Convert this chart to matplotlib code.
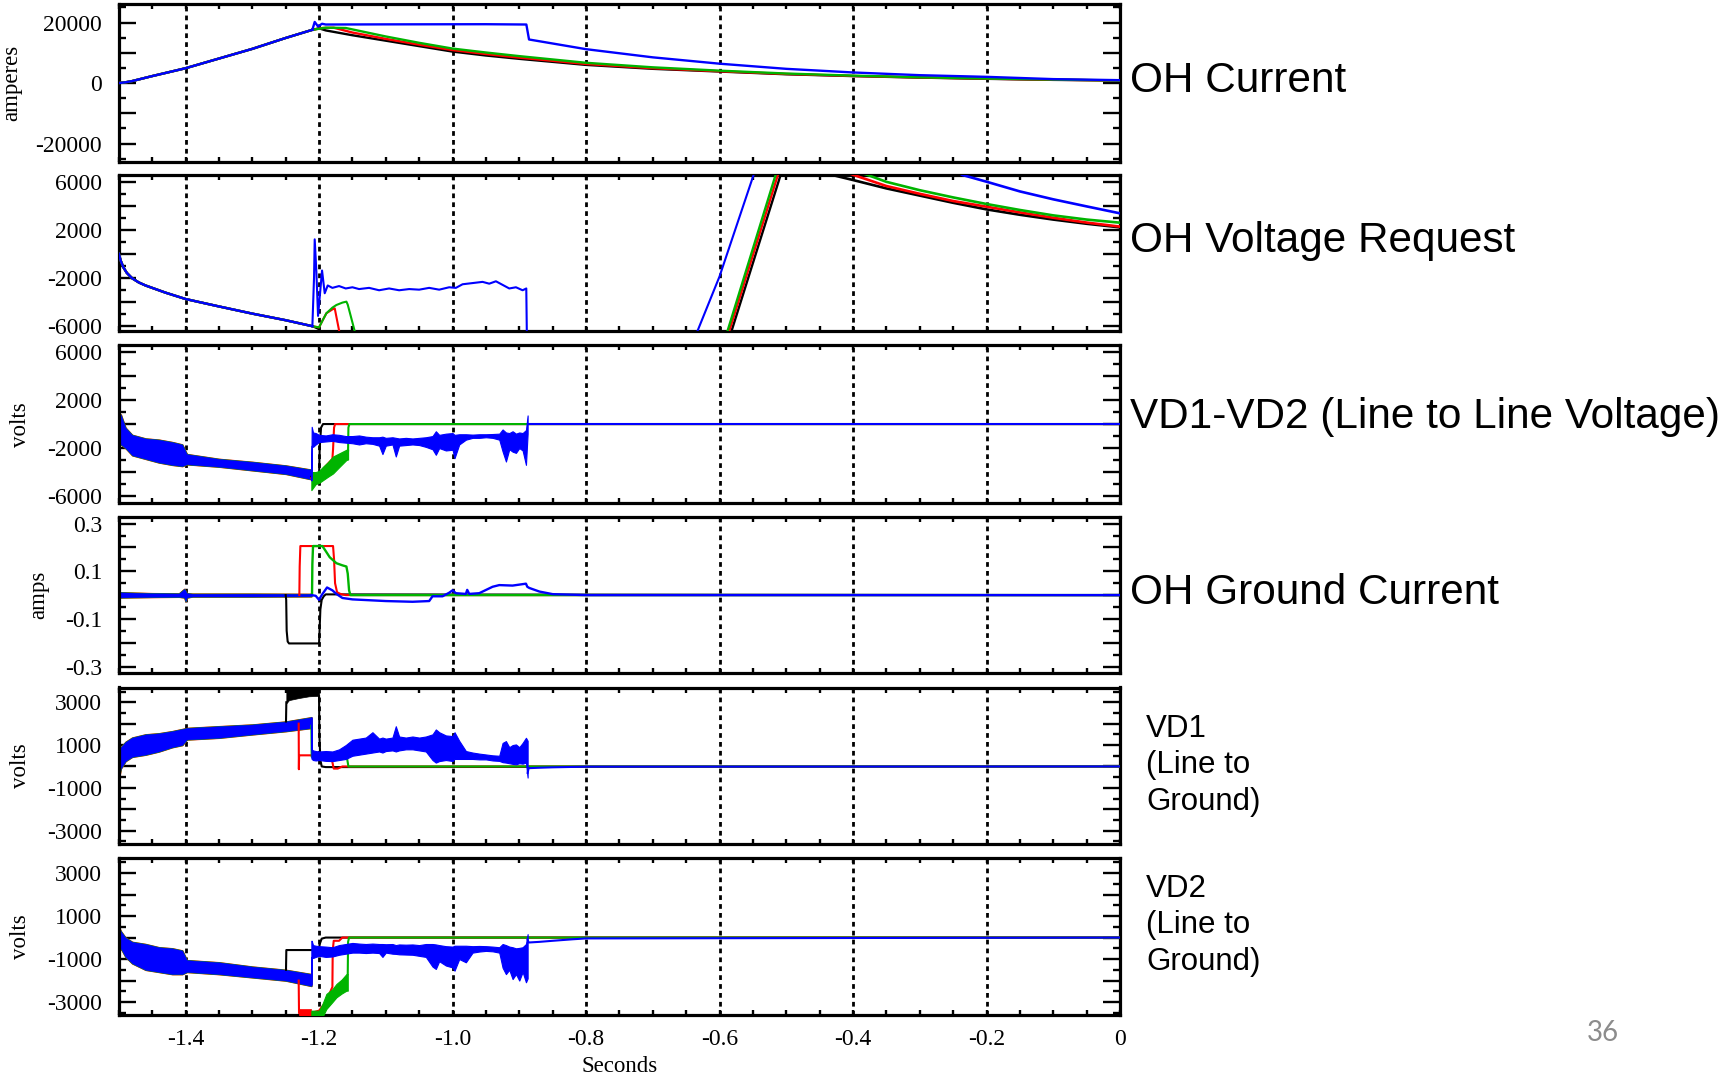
import matplotlib
matplotlib.use('Agg')
import matplotlib.pyplot as plt
from matplotlib.ticker import MultipleLocator

plt.rcParams['font.family'] = 'Liberation Serif'

BLACK, RED, GREEN, BLUE = '#000000', '#ff0000', '#00b400', '#0000ff'

# ---------------- time axis ----------------
x_ticks = [-1.4, -1.2, -1.0, -0.8, -0.6, -0.4, -0.2, 0.0]
x_ticklabels = ['-1.4', '-1.2', '-1.0', '-0.8', '-0.6', '-0.4', '-0.2', '0']
grid_t = [-1.4, -1.2, -1.0, -0.8, -0.6, -0.4, -0.2]

# ---------------- OH current [A] ----------------
ohc_ramp_t = [-1.5, -1.49, -1.48, -1.45, -1.4, -1.35, -1.3, -1.25, -1.21]
ohc_ramp = [0, 250, 650, 2300, 4900, 8100, 11300, 14900, 17600]
ohc_black_t = [-1.21, -1.2, -1.19, -1.15, -1.1, -1.05, -1.0, -0.95, -0.9, -0.8, -0.7, -0.6, -0.5, -0.4, -0.3, -0.2, -0.1, 0.0]
ohc_black = [17600, 18100, 17400, 15800, 14000, 12200, 10400, 9100, 8000, 6000, 4700, 3800, 2900, 2300, 1800, 1400, 1050, 850]
ohc_red_t = [-1.21, -1.195, -1.178, -1.15, -1.1, -1.05, -1.0, -0.95, -0.9, -0.8, -0.7, -0.6, -0.5, -0.4, -0.3, -0.2, -0.1, 0.0]
ohc_red = [17600, 18200, 18300, 16700, 14600, 12700, 10900, 9600, 8400, 6300, 4900, 3900, 3000, 2350, 1850, 1450, 1100, 850]
ohc_green_t = [-1.21, -1.19, -1.16, -1.1, -1.05, -1.0, -0.95, -0.9, -0.8, -0.7, -0.6, -0.5, -0.4, -0.3, -0.2, -0.1, 0.0]
ohc_green = [17600, 18300, 18200, 15400, 13300, 11400, 10100, 8900, 6700, 5200, 4100, 3150, 2450, 1900, 1500, 1150, 850]
ohc_blue_t = [-1.21, -1.2065, -1.2015, -1.1955, -1.19, -1.1, -0.95, -0.8894, -0.8854, -0.8, -0.7, -0.6, -0.5, -0.4, -0.3, -0.2, -0.1, 0.0]
ohc_blue = [17600, 20200, 18700, 19600, 19350, 19400, 19450, 19350, 14400, 11200, 8500, 6400, 4700, 3500, 2600, 2050, 1300, 950]

# ---------------- OH voltage request [V] ----------------
ovr_ramp_t = [-1.5, -1.497, -1.493, -1.488, -1.48, -1.47, -1.46, -1.45, -1.43, -1.4, -1.35, -1.3, -1.25, -1.21]
ovr_ramp = [0, -600, -1150, -1600, -2050, -2400, -2650, -2850, -3250, -3780, -4400, -5000, -5550, -6050]
ovr_black_t = [-1.21, -1.2, -1.195]
ovr_black = [-6050, -6300, -7500]
ovr_red_t = [-1.21, -1.2, -1.195, -1.189, -1.18, -1.1765, -1.17, -1.167]
ovr_red = [-6050, -6150, -5600, -4970, -4650, -4555, -6400, -7500]
ovr_green_t = [-1.21, -1.2, -1.195, -1.189, -1.18, -1.174, -1.165, -1.159, -1.157, -1.1466, -1.144]
ovr_green = [-6050, -6150, -5600, -4970, -4500, -4280, -4080, -4000, -4250, -6450, -7500]
ovr_blue_t = [-1.21, -1.2075, -1.2065, -1.204, -1.2015, -1.198, -1.1955, -1.1915, -1.187, -1.18, -1.17,
              -1.16, -1.15, -1.14, -1.125, -1.11, -1.095, -1.08, -1.065, -1.05, -1.035, -1.02, -1.005,
              -0.995, -0.985, -0.97, -0.955, -0.945, -0.935, -0.925, -0.915, -0.905, -0.895, -0.8895, -0.8885]
ovr_blue = [-6050, -2000, 1200, -1500, -5190, -3000, -1400, -3300, -2650, -2850, -2700,
            -2900, -2800, -2950, -2850, -3050, -2900, -3050, -2950, -3000, -2850, -3000, -2800,
            -2850, -2550, -2450, -2350, -2500, -2300, -2600, -2900, -2800, -3050, -2900, -7500]
ovr_rise_blue_t = [-0.64, -0.633, -0.6, -0.549, -0.54]
ovr_rise_blue = [-7500, -6450, -1900, 6570, 8000]
ovr_rise_black_t = [-0.59, -0.582, -0.5085, -0.5]
ovr_rise_black = [-7900, -6450, 6570, 8100]
ovr_rise_red_t = [-0.5935, -0.5855, -0.5126, -0.5046]
ovr_rise_red = [-7900, -6450, 6570, 8100]
ovr_rise_green_t = [-0.596, -0.588, -0.516, -0.508]
ovr_rise_green = [-7900, -6450, 6570, 8100]
ovr_fall_black_t = [-0.44, -0.431, -0.4, -0.35, -0.3, -0.25, -0.2, -0.15, -0.1, -0.05, 0.0]
ovr_fall_black = [6800, 6570, 6150, 5450, 4850, 4250, 3700, 3250, 2850, 2500, 2200]
ovr_fall_red_t = [-0.41, -0.399, -0.35, -0.3, -0.25, -0.2, -0.15, -0.1, -0.05, 0.0]
ovr_fall_red = [6800, 6570, 5650, 5000, 4400, 3925, 3450, 3000, 2600, 2260]
ovr_fall_green_t = [-0.39, -0.378, -0.35, -0.3, -0.25, -0.2, -0.15, -0.1, -0.05, 0.0]
ovr_fall_green = [6800, 6570, 6000, 5300, 4700, 4150, 3650, 3200, 2850, 2590]
ovr_fall_blue_t = [-0.25, -0.236, -0.2, -0.15, -0.1, -0.05, 0.0]
ovr_fall_blue = [7000, 6570, 6010, 5200, 4540, 3950, 3370]

# ---------------- shared pre-event noise (all four traces overlap) ----------------
pre_t = [-1.5, -1.497, -1.49, -1.48, -1.46, -1.44, -1.42, -1.405, -1.398, -1.35, -1.3, -1.25, -1.2115]
vdd_pre_hi = [400, 800, -300, -900, -1200, -1300, -1500, -1700, -2500, -2900, -3150, -3450, -3800]
vdd_pre_lo = [-1300, -1700, -2000, -2600, -2900, -3200, -3400, -3500, -3350, -3550, -3850, -4150, -4600]
vd1_pre_hi = [700, 900, 1150, 1350, 1500, 1550, 1650, 1750, 1800, 1880, 1960, 2100, 2300]
vd1_pre_lo = [-600, -100, 250, 450, 550, 700, 900, 1000, 1260, 1340, 1500, 1650, 1800]
vd2_pre_hi = [500, 300, 0, -200, -300, -450, -500, -600, -1050, -1150, -1350, -1500, -1700]
vd2_pre_lo = [-700, -500, -900, -1200, -1500, -1600, -1700, -1700, -1600, -1700, -1850, -2000, -2250]
gnd_pre_t = [-1.5, -1.45, -1.41, -1.402, -1.4, -1.398, -1.39, -1.3, -1.2115]
gnd_pre_hi = [0.012, 0.008, 0.007, 0.026, 0.018, 0.008, 0.006, 0.006, 0.005]
gnd_pre_lo = [-0.01, -0.008, -0.007, -0.01, -0.026, -0.01, -0.006, -0.006, -0.005]

# ---------------- blue post-event noise envelopes ----------------
noise_t = [-1.2115, -1.211, -1.209, -1.205, -1.2, -1.19, -1.18, -1.17, -1.16, -1.15, -1.14, -1.13, -1.12,
           -1.11, -1.105, -1.1, -1.09, -1.085, -1.08, -1.07, -1.06, -1.05, -1.04, -1.03, -1.025, -1.02, -1.01,
           -1.0, -0.997, -0.99, -0.98, -0.97, -0.96, -0.95, -0.94, -0.93, -0.925, -0.92, -0.915, -0.91, -0.905,
           -0.9, -0.895, -0.89, -0.8875]
vdd_blue_hi = [-4000, -230, -700, -750, -900, -950, -850, -900, -1000, -1000, -950, -1050, -1100,
               -1100, -1050, -1150, -1100, -1150, -1200, -1150, -1200, -1150, -1100, -1000, -600, -900, -800,
               -750, -900, -850, -850, -880, -850, -850, -830, -800, -450, -700, -750, -600, -800,
               -700, -750, -500, 720]
vdd_blue_lo = [-4700, -1800, -1900, -1700, -1500, -1450, -1400, -1500, -1550, -1600, -1700, -1600, -1650,
               -1800, -2500, -1800, -1700, -2700, -1800, -1750, -1700, -1750, -1900, -2100, -2560, -2000, -2200,
               -2140, -2840, -1700, -1300, -1150, -1150, -1100, -1150, -1300, -2280, -3120, -2100, -2300, -2400,
               -2000, -2200, -3400, -800]
vd1_blue_hi = [2300, 800, 750, 720, 700, 720, 700, 800, 1000, 1250, 1300, 1350, 1600,
               1300, 1350, 1300, 1350, 1880, 1400, 1350, 1400, 1350, 1400, 1500, 1730, 1600, 1450,
               1420, 1600, 1200, 720, 650, 600, 560, 520, 500, 1100, 1185, 900, 1000, 1030,
               900, 1100, 1340, 1200]
vd1_blue_lo = [400, 350, 300, 280, 300, 260, 250, 300, 350, 500, 550, 600, 650,
               700, 650, 720, 750, 700, 750, 800, 800, 750, 700, 300, 180, 250, 300,
               255, 350, 350, 350, 350, 330, 330, 280, 260, 200, 180, 150, 120, 100,
               150, 130, 180, -520]
vd2_blue_hi = [-150, -150, -350, -380, -400, -420, -450, -350, -300, -250, -280, -300, -280,
               -300, -300, -310, -300, -350, -320, -330, -320, -350, -300, -300, -320, -350, -400,
               -420, -380, -380, -380, -400, -390, -400, -420, -450, -300, -350, -420, -450, -500,
               -480, -450, -300, 160]
vd2_blue_lo = [-2200, -900, -950, -900, -850, -900, -880, -800, -750, -700, -700, -720, -700,
               -720, -900, -700, -750, -760, -780, -790, -800, -850, -900, -1350, -1460, -1100, -1300,
               -1390, -1540, -1000, -1150, -700, -650, -620, -640, -700, -1400, -1700, -1500, -1930, -1700,
               -2000, -1600, -2080, -1900]

# ---------------- VD1-VD2 [V] ----------------
vdd_black_t = [-1.2115, -1.2, -1.199, -1.197, -1.194, 0.0]
vdd_black = [-4400, -4550, -2000, -300, 0, 0]
vdd_red_t = [-1.2115, -1.2, -1.19, -1.18, -1.179, -1.1775, -1.176, 0.0]
vdd_red = [-4500, -4300, -3500, -2900, -2100, -300, 0, 0]
vdd_green_t = [-1.2115, -1.205, -1.2, -1.194, -1.187, -1.179, -1.17, -1.159, -1.1565]
vdd_green_hi = [-4000, -4000, -3900, -3550, -3200, -2700, -2450, -2140, -2100]
vdd_green_lo = [-5500, -5000, -4900, -4670, -4400, -4110, -3600, -2990, -2950]
vdd_green_tail_t = [-1.1565, -1.156, -1.1545, 0.0]
vdd_green_tail = [-2200, -300, 0, 0]
vdd_blue_tail_t = [-0.8875, -0.886, 0.0]
vdd_blue_tail = [0, 0, 0]

# ---------------- OH ground current [A] ----------------
gnd_black_t = [-1.25, -1.2492, -1.2485, -1.247, -1.245, -1.2, -1.1995, -1.198, -1.196, -1.193, -1.19, 0.0]
gnd_black = [0, -0.02, -0.15, -0.195, -0.203, -0.203, -0.17, -0.06, -0.02, -0.005, 0.003, 0.0]
gnd_red_t = [-1.2295, -1.229, -1.228, -1.179, -1.1775, -1.176, -1.173, -1.168, -1.16, 0.0]
gnd_red = [0, 0.12, 0.206, 0.206, 0.15, 0.05, 0.012, 0.005, 0, 0]
gnd_green_t = [-1.2105, -1.21, -1.209, -1.195, -1.19, -1.184, -1.174, -1.165, -1.159, -1.157, -1.155, -1.153, 0.0]
gnd_green = [0, 0.13, 0.206, 0.206, 0.185, 0.159, 0.134, 0.125, 0.12, 0.09, 0.02, 0, 0]
gnd_blue_t = [-1.2115, -1.205, -1.2, -1.196, -1.188, -1.18, -1.174, -1.165, -1.15, -1.1, -1.06, -1.035, -1.03,
              -1.015, -1.005, -1.0, -0.995, -0.98, -0.978, -0.975, -0.96, -0.94, -0.93, -0.91, -0.89, -0.888,
              -0.885, -0.87, -0.85, -0.8, 0.0]
gnd_blue = [0, -0.003, -0.02, 0.0, 0.032, 0.02, 0.005, -0.012, -0.018, -0.025, -0.028, -0.025, -0.005,
            -0.005, 0.01, 0.02, 0.008, 0.005, 0.022, 0.005, 0.008, 0.035, 0.042, 0.04, 0.048, 0.035,
            0.03, 0.015, 0.004, 0.0, 0.0]

# ---------------- VD1 line to ground [V] ----------------
vd1_black_step_t = [-1.2495, -1.249]
vd1_black_step = [2100, 3000]
vd1_black_band_t = [-1.249, -1.245, -1.23, -1.215, -1.2]
vd1_black_band_lo = [2950, 3100, 3200, 3280, 3300]
vd1_black_band_hi = [3800, 3800, 3800, 3800, 3800]
vd1_black_t = [-1.2, -1.1995, -1.198, -1.196, -1.19, 0.0]
vd1_black = [3300, 1500, 300, 0, -30, 0]
vd1_red_t = [-1.2305, -1.2302, -1.2299, -1.229, -1.212, -1.2, -1.185, -1.181, -1.178, -1.172, -1.165, 0.0]
vd1_red = [2000, -130, 520, 520, 520, 450, 400, 350, -100, -100, 0, 0]
vd1_green_t = [-1.2115, -1.211, -1.2, -1.18, -1.165, -1.158, -1.156, -1.15, 0.0]
vd1_green = [1900, 450, 420, 400, 380, 380, 0, 0, 0]
vd1_blue_tail_t = [-0.8875, -0.886, -0.87, -0.85, -0.8, 0.0]
vd1_blue_tail = [-300, -80, -60, -40, -10, 0]

# ---------------- VD2 line to ground [V] ----------------
vd2_black_t = [-1.2495, -1.249, -1.2, -1.199, -1.196, -1.19, 0.0]
vd2_black = [-1500, -580, -580, -300, -50, 0, 0]
vd2_red_step_t = [-1.2305, -1.2300]
vd2_red_step = [-2000, -3500]
vd2_red_band_t = [-1.2300, -1.2115]
vd2_red_band_lo = [-3700, -3700]
vd2_red_band_hi = [-3320, -3320]
vd2_red_t = [-1.2115, -1.2, -1.19, -1.18, -1.1795, -1.178, -1.17, -1.165, 0.0]
vd2_red = [-3500, -3400, -3000, -2300, -600, -150, -150, 0, 0]
vd2_green_t = [-1.2115, -1.2, -1.195, -1.189, -1.18, -1.174, -1.166, -1.159, -1.157]
vd2_green_hi = [-3400, -3400, -3100, -2620, -2400, -2160, -1950, -1700, -1700]
vd2_green_lo = [-3700, -3700, -3700, -3320, -3000, -2780, -2600, -2470, -2470]
vd2_green_tail_t = [-1.157, -1.1565, -1.155, 0.0]
vd2_green_tail = [-1700, -200, 0, 0]
vd2_blue_tail_t = [-0.8875, -0.886, -0.87, -0.85, -0.82, -0.8, 0.0]
vd2_blue_tail = [-100, -230, -200, -150, -80, -40, 0]

# ---------------- y axes ----------------
ohc_yticks = [-20000, -10000, 0, 10000, 20000]
ohc_ylabels = ['-20000', '', '0', '', '20000']
volt6_yticks = [-6000, -4000, -2000, 0, 2000, 4000, 6000]
volt6_ylabels = ['-6000', '', '-2000', '', '2000', '', '6000']
gnd_yticks = [-0.3, -0.2, -0.1, 0.0, 0.1, 0.2, 0.3]
gnd_ylabels = ['-0.3', '', '-0.1', '', '0.1', '', '0.3']
volt3_yticks = [-3000, -2000, -1000, 0, 1000, 2000, 3000]
volt3_ylabels = ['-3000', '', '-1000', '', '1000', '', '3000']

W, H = 1725, 1076
fig = plt.figure(figsize=(W / 100, H / 100), dpi=100)

frames = [(4.4, 161.7), (175, 331), (345.4, 502.7), (517, 673.2), (687.5, 843.8), (858, 1015.3)]
ax_left, ax_right = 118.8, 1120
axes = []
for top, bot in frames:
    axes.append(fig.add_axes([ax_left / W, 1 - bot / H, (ax_right - ax_left) / W, (bot - top) / H]))


def line(ax, t, v, c, z=3, lw=1.5):
    ax.plot(t, v, color=c, lw=lw, zorder=z)


def band(ax, t, lo, hi, c, z=3, lw=0.5):
    ax.fill_between(t, lo, hi, facecolor=c, edgecolor=c, lw=lw, zorder=z)


def mixed_band(ax, t, lo, hi):
    # overlapping traces: only thin red/green fringes show round the blue
    band(ax, t, lo, hi, RED, 2.1, 1.1)
    band(ax, t, lo, hi, GREEN, 2.2, 0.8)
    band(ax, t, lo, hi, BLUE, 2.3, 0.3)


def style(ax, ylim, yticks, ylabels, minor, bottom_labels=False):
    ax.set_xlim(-1.5, 0)
    ax.set_ylim(*ylim)
    ax.set_xticks(x_ticks)
    ax.set_xticklabels(x_ticklabels if bottom_labels else [''] * len(x_ticks))
    ax.xaxis.set_minor_locator(MultipleLocator(0.05))
    ax.set_yticks(yticks)
    ax.set_yticklabels(ylabels)
    ax.yaxis.set_minor_locator(MultipleLocator(minor))
    ax.tick_params(axis='both', which='both', direction='in', top=True, right=True, width=1.7,
                   labelsize=17, colors='black')
    ax.tick_params(axis='y', which='major', length=12, pad=12)
    ax.tick_params(axis='y', which='minor', length=5)
    ax.tick_params(axis='x', which='both', length=3.5, pad=10)
    for s in ax.spines.values():
        s.set_linewidth(2.3)
    for g in grid_t:
        ax.axvline(g, color='black', lw=2.0, ls=(0, (1.7, 1.5)), zorder=1)


# OH current
ax = axes[0]
for c, z in ((BLACK, 3), (RED, 3.1), (GREEN, 3.2), (BLUE, 3.3)):
    line(ax, ohc_ramp_t, ohc_ramp, c, z, 1.7)
line(ax, ohc_black_t, ohc_black, BLACK, 3, 1.7)
line(ax, ohc_red_t, ohc_red, RED, 3.1, 1.7)
line(ax, ohc_green_t, ohc_green, GREEN, 3.2, 1.7)
line(ax, ohc_blue_t, ohc_blue, BLUE, 3.3, 1.7)
style(ax, (-26000, 26000), ohc_yticks, ohc_ylabels, 5000)

# OH voltage request
ax = axes[1]
for c, z in ((BLACK, 3), (RED, 3.1), (GREEN, 3.2), (BLUE, 3.3)):
    line(ax, ovr_ramp_t, ovr_ramp, c, z, 1.7)
line(ax, ovr_black_t, ovr_black, BLACK, 3)
line(ax, ovr_red_t, ovr_red, RED, 3.1)
line(ax, ovr_green_t, ovr_green, GREEN, 3.2)
line(ax, ovr_blue_t, ovr_blue, BLUE, 3.3)
line(ax, ovr_rise_black_t, ovr_rise_black, BLACK, 3, 1.7)
line(ax, ovr_rise_red_t, ovr_rise_red, RED, 3.1, 1.7)
line(ax, ovr_rise_green_t, ovr_rise_green, GREEN, 3.2, 1.7)
line(ax, ovr_rise_blue_t, ovr_rise_blue, BLUE, 3.3)
line(ax, ovr_fall_black_t, ovr_fall_black, BLACK, 3, 1.9)
line(ax, ovr_fall_red_t, ovr_fall_red, RED, 3.1, 1.9)
line(ax, ovr_fall_green_t, ovr_fall_green, GREEN, 3.2, 1.9)
line(ax, ovr_fall_blue_t, ovr_fall_blue, BLUE, 3.3, 1.9)
style(ax, (-6450, 6570), volt6_yticks, volt6_ylabels, 1000)

# VD1-VD2
ax = axes[2]
mixed_band(ax, pre_t, vdd_pre_lo, vdd_pre_hi)
line(ax, vdd_black_t, vdd_black, BLACK, 3)
line(ax, vdd_red_t, vdd_red, RED, 3.1)
band(ax, vdd_green_t, vdd_green_lo, vdd_green_hi, GREEN, 3.2, 0.8)
line(ax, vdd_green_tail_t, vdd_green_tail, GREEN, 3.2)
band(ax, noise_t, vdd_blue_lo, vdd_blue_hi, BLUE, 3.3, 0.8)
line(ax, vdd_blue_tail_t, vdd_blue_tail, BLUE, 3.3)
style(ax, (-6550, 6550), volt6_yticks, volt6_ylabels, 1000)

# OH ground current
ax = axes[3]
mixed_band(ax, gnd_pre_t, gnd_pre_lo, gnd_pre_hi)
line(ax, gnd_black_t, gnd_black, BLACK, 3)
line(ax, gnd_red_t, gnd_red, RED, 3.1)
line(ax, gnd_green_t, gnd_green, GREEN, 3.2, 1.7)
line(ax, gnd_blue_t, gnd_blue, BLUE, 3.3, 1.7)
style(ax, (-0.328, 0.328), gnd_yticks, gnd_ylabels, 0.05)

# VD1
ax = axes[4]
mixed_band(ax, pre_t, vd1_pre_lo, vd1_pre_hi)
line(ax, vd1_black_step_t, vd1_black_step, BLACK, 3)
band(ax, vd1_black_band_t, vd1_black_band_lo, vd1_black_band_hi, BLACK, 3)
line(ax, vd1_black_t, vd1_black, BLACK, 3)
line(ax, vd1_red_t, vd1_red, RED, 3.1)
line(ax, vd1_green_t, vd1_green, GREEN, 3.2)
band(ax, noise_t, vd1_blue_lo, vd1_blue_hi, BLUE, 3.3, 0.8)
line(ax, vd1_blue_tail_t, vd1_blue_tail, BLUE, 3.3)
style(ax, (-3615, 3690), volt3_yticks, volt3_ylabels, 500)

# VD2
ax = axes[5]
mixed_band(ax, pre_t, vd2_pre_lo, vd2_pre_hi)
line(ax, vd2_black_t, vd2_black, BLACK, 3)
line(ax, vd2_red_step_t, vd2_red_step, RED, 3.1)
band(ax, vd2_red_band_t, vd2_red_band_lo, vd2_red_band_hi, RED, 3.1)
line(ax, vd2_red_t, vd2_red, RED, 3.1)
band(ax, vd2_green_t, vd2_green_lo, vd2_green_hi, GREEN, 3.2, 0.8)
line(ax, vd2_green_tail_t, vd2_green_tail, GREEN, 3.2)
band(ax, noise_t, vd2_blue_lo, vd2_blue_hi, BLUE, 3.3, 0.8)
line(ax, vd2_blue_tail_t, vd2_blue_tail, BLUE, 3.3)
style(ax, (-3615, 3700), volt3_yticks, volt3_ylabels, 500, bottom_labels=True)


def ftext(x, y, s, **kw):
    fig.text(x / W, 1 - y / H, s, **kw)


# unit labels on the left
for x, y, s in ((12, 82.5, 'amperes'), (20.5, 424.6, 'volts'), (39, 595, 'amps'),
                (20.5, 765.6, 'volts'), (20.5, 937, 'volts')):
    ftext(x, y, s, rotation=90, ha='center', va='center', fontsize=16.5)
ftext(619.5, 1072, 'Seconds', ha='center', va='baseline', fontsize=16.5)

# panel titles on the right
sans = 'Liberation Sans'
for y, s in ((91.5, 'OH Current'), (252, 'OH Voltage Request'),
             (428, 'VD1-VD2 (Line to Line Voltage)'), (604, 'OH Ground Current')):
    ftext(1130, y, s, ha='left', va='baseline', fontsize=30.4, family=sans)
for y, s in ((737, 'VD1'), (773, '(Line to'), (810, 'Ground)'),
             (897, 'VD2'), (933, '(Line to'), (970, 'Ground)')):
    ftext(1146, y, s, ha='left', va='baseline', fontsize=22.5, family=sans)

ftext(1603, 1041, '36', ha='center', va='baseline', fontsize=20, family='Lato', color='#8c8c8c')

fig.savefig('out.png', dpi=100)
